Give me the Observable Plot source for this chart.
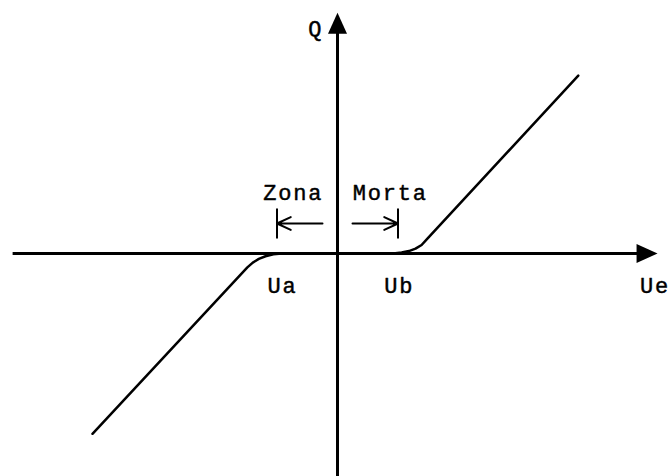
<!DOCTYPE html>
<html>
<head>
<meta charset="utf-8">
<script src="https://cdn.jsdelivr.net/npm/d3@7"></script>
<script src="https://cdn.jsdelivr.net/npm/@observablehq/plot@0.6"></script>
<style>
  html, body { margin: 0; padding: 0; background: #fff; }
  #chart svg text { letter-spacing: 1.8px; }
</style>
</head>
<body>
<div id="chart"></div>
<script>
// Dead-zone characteristic Q(Ue)
const ua = -1;          // start of dead zone
const ub = 1;           // end of dead zone
const curveUe = [-4.05, -1.49, -1.40, -1.30, -1.19, -1.06, -0.92, 0, 0.92, 1.06, 1.18, 1.29, 1.39, 1.49, 3.98];
const curveQ  = [-2.98, -0.23, -0.15, -0.09, -0.045, -0.012, 0, 0, 0, 0.015, 0.04, 0.08, 0.14, 0.25, 2.94];

// axis extents (data units)
const ueMin = -5.37, ueMax = 5.29;
const qMin = -3.7, qMax = 3.98;

// dead-zone annotation
const zoneMarkTop = 0.744, zoneMarkBottom = 0.248, zoneArrowQ = 0.496, zoneArrowInner = 0.248;

const labelText = ["Zona", "Morta", "Ua", "Ub", "Ue", "Q"];
const labelUe   = [-0.73, 0.87, -0.91, 1.02, 5.0, -0.36];
const labelQ    = [0.89, 0.89, -0.645, -0.645, -0.645, 3.6];
const labelAnchor = ["middle", "middle", "middle", "middle", "start", "middle"];

const curve = curveUe.map((x, i) => ({x, y: curveQ[i]}));
const labels = labelText.map((t, i) => ({t, x: labelUe[i], y: labelQ[i], a: labelAnchor[i]}));

// filled arrow head, pointing right, tip at the origin
const arrowHead = {
  draw(ctx) {
    ctx.moveTo(0, 0);
    ctx.lineTo(-21, -9.5);
    ctx.lineTo(-21, 9.5);
    ctx.closePath();
  }
};

const heads = [
  {x: ueMax, y: 0, r: 0},
  {x: 0, y: qMax, r: -90}
];

const textOpts = {
  fontFamily: "'Liberation Mono', 'DejaVu Sans Mono', monospace",
  fontSize: 22, lineAnchor: "bottom", fill: "#000", stroke: "#000", strokeWidth: 0.45
};

const chart = Plot.plot({
  width: 670,
  height: 476,
  margin: 0,
  style: {background: "#fff"},
  x: {domain: [-337 / 60.5, 333 / 60.5], axis: null},
  y: {domain: [-223 / 60.5, 253 / 60.5], axis: null},
  marks: [
    // axes
    Plot.link([{x1: ueMin, x2: ueMax - 0.2, y1: 0, y2: 0}], {x1: "x1", x2: "x2", y1: "y1", y2: "y2", stroke: "#000", strokeWidth: 3}),
    Plot.link([{x1: 0, x2: 0, y1: qMin, y2: qMax - 0.2}], {x1: "x1", x2: "x2", y1: "y1", y2: "y2", stroke: "#000", strokeWidth: 3}),
    Plot.dot(heads, {x: "x", y: "y", rotate: "r", symbol: arrowHead, fill: "#000", stroke: "none", r: 10}),
    // characteristic
    Plot.line(curve, {x: "x", y: "y", curve: "linear", stroke: "#000", strokeWidth: 2.5, strokeLinejoin: "round"}),
    // dead-zone markers
    Plot.link([ua, ub], {x1: d => d, x2: d => d, y1: zoneMarkBottom, y2: zoneMarkTop, stroke: "#000", strokeWidth: 2}),
    Plot.arrow([{x1: -zoneArrowInner, x2: ua}, {x1: zoneArrowInner, x2: ub}], {
      x1: "x1", x2: "x2", y1: zoneArrowQ, y2: zoneArrowQ,
      stroke: "#000", strokeWidth: 2, headLength: 19, headAngle: 50
    }),
    // labels
    Plot.text(labels.filter(d => d.a === "middle"), {x: "x", y: "y", text: "t", textAnchor: "middle", ...textOpts}),
    Plot.text(labels.filter(d => d.a === "start"), {x: "x", y: "y", text: "t", textAnchor: "start", ...textOpts})
  ]
});
document.getElementById("chart").appendChild(chart);
</script>
</body>
</html>
